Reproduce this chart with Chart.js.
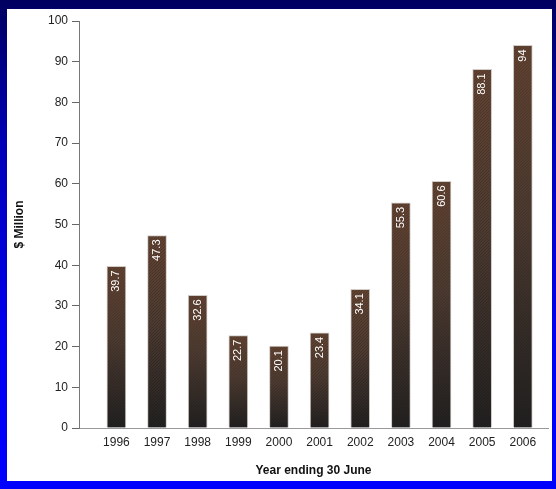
<!DOCTYPE html>
<html>
<head>
<meta charset="utf-8">
<script src="https://cdn.jsdelivr.net/npm/chart.js@4.4.1/dist/chart.umd.min.js"></script>
<style>
  html, body { margin: 0; padding: 0; }
  body {
    width: 556px; height: 489px; overflow: hidden; position: relative;
    background: linear-gradient(to bottom, #000060 0%, #0000b8 30%, #0000f0 70%, #0000ff 100%);
  }
  #panel { position: absolute; left: 7px; top: 9px; width: 545px; height: 472px; background: #fff; }
  #chart { position: absolute; left: 0; top: 0; }
</style>
</head>
<body>
<div id="panel"></div>
<canvas id="chart" width="556" height="489"></canvas>
<script>
// dados do grafico
const years = ['1996', '1997', '1998', '1999', '2000', '2001', '2002', '2003', '2004', '2005', '2006'];
const values = [39.7, 47.3, 32.6, 22.7, 20.1, 23.4, 34.1, 55.3, 60.6, 88.1, 94];
const yTicks = [0, 10, 20, 30, 40, 50, 60, 70, 80, 90, 100];

const font = 'Liberation Sans, Arial, sans-serif';

// gradiente marrom -> cinza escuro em cada barra
function barGradient(context) {
    const chart = context.chart;
    if (!chart.chartArea || !context.raw) return '#4a3528';
    const yScale = chart.scales.y;
    const top = yScale.getPixelForValue(context.raw.y);
    const base = yScale.getPixelForValue(0);
    const g = chart.ctx.createLinearGradient(0, top, 0, base);
    g.addColorStop(0, '#624332');
    g.addColorStop(0.45, '#4d3b31');
    g.addColorStop(1, '#222121');
    return g;
}

// textura diagonal + rotulos brancos verticais
const barLabels = {
    id: 'barLabels',
    afterDatasetsDraw(chart) {
        const ctx = chart.ctx;
        const meta = chart.getDatasetMeta(0);
        meta.data.forEach(bar => {
            const left = bar.x - bar.width / 2 + 1;
            const w = bar.width - 2;
            const h = bar.base - bar.y - 1;
            ctx.save();
            ctx.beginPath();
            ctx.rect(left, bar.y + 1, w, h);
            ctx.clip();
            ctx.lineWidth = 1;
            ctx.strokeStyle = 'rgba(0,0,0,0.18)';
            for (let d = -w; d < h + w; d += 3) {
                ctx.beginPath();
                ctx.moveTo(left, bar.y + d + w);
                ctx.lineTo(left + w, bar.y + d);
                ctx.stroke();
            }
            ctx.restore();
        });
        ctx.save();
        ctx.fillStyle = '#fff';
        ctx.font = '11px ' + font;
        meta.data.forEach((bar, i) => {
            ctx.save();
            ctx.translate(bar.x, bar.y + 4);
            ctx.rotate(-Math.PI / 2);
            ctx.textAlign = 'right';
            ctx.textBaseline = 'middle';
            ctx.fillText(String(values[i]), 0, 0);
            ctx.restore();
        });
        ctx.restore();
    }
};

new Chart(document.getElementById('chart'), {
    type: 'bar',
    data: {
        datasets: [{
            data: values.map((v, i) => ({ x: i, y: v })),
            backgroundColor: barGradient,
            borderColor: '#d0ccc8',
            borderWidth: 1,
            barThickness: 19
        }]
    },
    options: {
        responsive: false,
        animation: false,
        layout: { padding: { left: 8, right: 8, top: 21, bottom: 7 } },
        plugins: { legend: { display: false }, tooltip: { enabled: false } },
        scales: {
            x: {
                type: 'linear',
                offset: false,
                min: -0.92,
                max: 10.62,
                afterBuildTicks: s => { s.ticks = years.map((y, i) => ({ value: i })); },
                afterFit: s => { s.height = 54; },
                ticks: {
                    callback: v => years[v],
                    color: '#222',
                    font: { family: font, size: 12 },
                    padding: 7,
                    maxRotation: 0
                },
                grid: { display: false, drawTicks: false },
                border: { display: true, color: '#999', width: 1 },
                title: {
                    display: true,
                    text: 'Year ending 30 June',
                    color: '#111',
                    font: { family: font, size: 12, weight: 'bold' }
                }
            },
            y: {
                min: 0,
                max: 100,
                afterBuildTicks: s => { s.ticks = yTicks.map(v => ({ value: v })); },
                afterFit: s => { s.width = 71; },
                ticks: {
                    color: '#222',
                    font: { family: font, size: 12 },
                    padding: 4
                },
                grid: { drawOnChartArea: false, drawTicks: true, tickLength: 7, color: '#666' },
                border: { display: true, color: '#777', width: 1 },
                title: {
                    display: true,
                    text: '$ Million',
                    color: '#111',
                    font: { family: font, size: 12, weight: 'bold' }
                }
            }
        }
    },
    plugins: [barLabels]
});
</script>
</body>
</html>
